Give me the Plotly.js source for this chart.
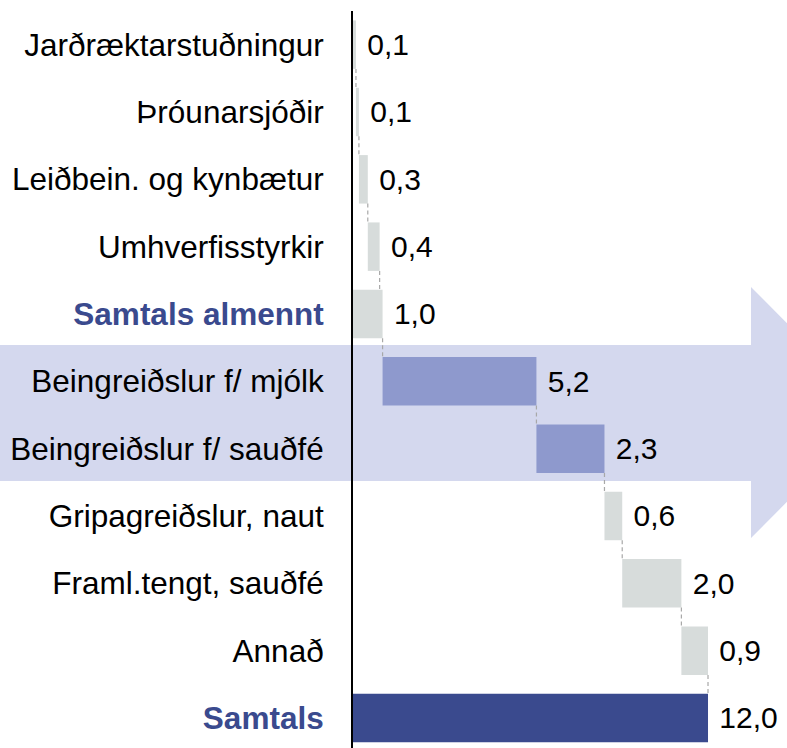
<!DOCTYPE html>
<html>
<head>
<meta charset="utf-8">
<script src="https://cdn.plot.ly/plotly-3.0.1.min.js"></script>
<style>html,body{margin:0;padding:0;background:#fff;}#chart{width:787px;height:748px;}</style>
</head>
<body>
<div id="chart"></div>
<script>
// ---- data ----
const categories = ['Jarðræktarstuðningur','Þróunarsjóðir','Leiðbein. og kynbætur','Umhverfisstyrkir','Samtals almennt','Beingreiðslur f/ mjólk','Beingreiðslur f/ sauðfé','Gripagreiðslur, naut','Framl.tengt, sauðfé','Annað','Samtals'];
const values = [0.1, 0.1, 0.3, 0.4, 1.0, 5.2, 2.3, 0.6, 2.0, 0.9, 12.0];
const measures = ['relative','relative','relative','relative','total','relative','relative','relative','relative','relative','total'];
const groups = ['other','other','other','other','other','direct','direct','other','other','other','grand'];

// ---- styles ----
const groupColors = {other:'#d7dcdb', direct:'#8e99cd', grand:'#3a4a8e'};
const labelBlue = '#3a4a8e';
const FONT = 'Liberation Sans, Arial, Helvetica, sans-serif';
const FS_TICK = 31.5;
const FS_VAL = 30;

// ---- waterfall geometry from data ----
const bases = [], ends = [];
let running = 0;
values.forEach((v, i) => {
  if (measures[i] === 'total') { bases.push(0); running = v; }
  else { bases.push(running); running += v; }
  ends.push(running);
});
const idx = categories.map((c, i) => i);
const barW = 0.72;
const fmt = v => '\u00a0' + v.toFixed(1).replace('.', ',');

const bars = {
  type: 'bar', orientation: 'h',
  y: idx, x: values, base: bases, width: barW,
  marker: {color: groups.map(g => groupColors[g]), line: {width: 0}},
  text: values.map(fmt), textposition: 'outside', constraintext: 'none',
  textfont: {family: FONT, size: FS_VAL, color: '#000'},
  cliponaxis: false, hoverinfo: 'skip'
};

// connectors
const cx = [], cy = [];
for (let i = 0; i < values.length - 1; i++) {
  cx.push(ends[i], ends[i], null);
  cy.push(i + barW / 2, i + 1 - barW / 2, null);
}
const connectors = {
  type: 'scatter', mode: 'lines', x: cx, y: cy,
  line: {color: '#a8a8a8', width: 1.2, dash: '4px,3px'},
  hoverinfo: 'skip', showlegend: false
};

const tickText = categories.map((c, i) =>
  measures[i] === 'total' ? '<b><span style="color:' + labelBlue + '">' + c + '</span></b>' : c);

// background arrow in pixel space -> paper coords
const W = 787, H = 748, ML = 353, MR = 0, MT = 11, MB = 0;
const px = x => (x - ML) / (W - ML - MR);
const py = y => 1 - (y - MT) / (H - MT - MB);
const arrowPath = 'M ' + px(0) + ' ' + py(345) +
  ' L ' + px(751) + ' ' + py(345) +
  ' L ' + px(751) + ' ' + py(287) +
  ' L ' + px(876) + ' ' + py(412.5) +
  ' L ' + px(751) + ' ' + py(538) +
  ' L ' + px(751) + ' ' + py(481) +
  ' L ' + px(0) + ' ' + py(481) + ' Z';

const layout = {
  width: W, height: H,
  margin: {l: ML, r: MR, t: MT, b: MB, pad: 0},
  paper_bgcolor: '#fff', plot_bgcolor: 'rgba(0,0,0,0)',
  showlegend: false,
  font: {family: FONT, size: FS_TICK, color: '#000'},
  xaxis: {visible: false, range: [0, 14.67], fixedrange: true},
  yaxis: {
    type: 'linear', range: [10.446, -0.5],
    tickmode: 'array', tickvals: idx, ticktext: tickText,
    ticks: '', ticklabelstandoff: 21,
    showgrid: false, zeroline: false,
    showline: true, linecolor: '#000', linewidth: 2,
    tickfont: {family: FONT, size: FS_TICK, color: '#000'}
  },
  shapes: [{
    type: 'path', xref: 'paper', yref: 'paper', path: arrowPath,
    fillcolor: '#d4d8ee', line: {width: 0}, layer: 'below'
  }]
};

Plotly.newPlot('chart', [bars, connectors], layout, {staticPlot: true, displayModeBar: false});
</script>
</body>
</html>
